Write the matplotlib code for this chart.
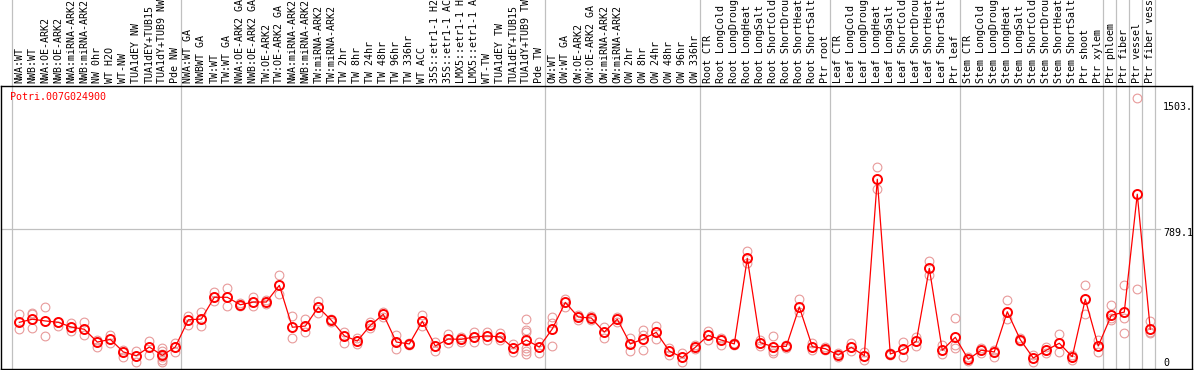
import numpy as np
import matplotlib
matplotlib.use("Agg")
import matplotlib.pyplot as plt
import matplotlib.transforms as mtransforms

gene = "Potri.007G024900"

# names are cut to 14 characters, as in the original chart
samples = ["NWA:WT", "NWB:WT", "NWA:OE-ARK2", "NWB:OE-ARK2", "NWA:miRNA-ARK2",
           "NWB:miRNA-ARK2", "NW 0hr", "WT H2O", "WT-NW", "TUA1dEY NW",
           "TUA1dEY+TUB15", "TUA1dY+TUB9 NW", "Pde NW", "NWA:WT GA", "NWBWT GA",
           "TW:WT", "TW:WT GA", "NWA:OE-ARK2 GA", "NWB:OE-ARK2 GA", "TW:OE-ARK2",
           "TW:OE-ARK2 GA", "NWA:miRNA-ARK2", "NWB:miRNA-ARK2", "TW:miRNA-ARK2", "TW:miRNA-ARK2",
           "TW 2hr", "TW 8hr", "TW 24hr", "TW 48hr", "TW 96hr",
           "TW 336hr", "WT ACC", "35S::etr1-1 H2", "35S::etr1-1 AC", "LMX5::etr1-1 H",
           "LMX5::etr1-1 A", "WT-TW", "TUA1dEY TW", "TUA1dEY+TUB15", "TUA1dY+TUB9 TW",
           "Pde TW", "OW:WT", "OW:WT GA", "OW:OE-ARK2", "OW:OE-ARK2 GA",
           "OW:miRNA-ARK2", "OW:miRNA-ARK2", "OW 2hr", "OW 8hr", "OW 24hr",
           "OW 48hr", "OW 96hr", "OW 336hr", "Root CTR", "Root LongCold",
           "Root LongDroug", "Root LongHeat", "Root LongSalt", "Root ShortCold", "Root ShortDrou",
           "Root ShortHeat", "Root ShortSalt", "Ptr root", "Leaf CTR", "Leaf LongCold",
           "Leaf LongDroug", "Leaf LongHeat", "Leaf LongSalt", "Leaf ShortCold", "Leaf ShortDrou",
           "Leaf ShortHeat", "Leaf ShortSalt", "Ptr leaf", "Stem CTR", "Stem LongCold",
           "Stem LongDroug", "Stem LongHeat", "Stem LongSalt", "Stem ShortCold", "Stem ShortDrou",
           "Stem ShortHeat", "Stem ShortSalt", "Ptr shoot", "Ptr xylem", "Ptr phloem",
           "Ptr fiber", "Ptr vessel", "Ptr fiber vess"]

means = [239, 257, 247, 239, 211, 198, 123, 139, 65, 43,
         94, 45, 94, 254, 258, 386, 386, 342, 358, 358,
         456, 210, 217, 327, 251, 160, 129, 221, 286, 123,
         112, 245, 100, 141, 139, 153, 159, 153, 88, 135,
         94, 200, 356, 270, 264, 182, 257, 112, 141, 180,
         70, 33, 92, 163, 135, 112, 615, 119, 96, 98,
         329, 96, 84, 47, 92, 43, 1079, 53, 80, 127,
         556, 75, 151, 22, 75, 65, 301, 137, 29, 75,
         116, 37, 374, 100, 280, 299, 991, 198]

reps = [[288, 198], [288, 206, 295], [327, 157], [239, 217], [233, 186],
        [241, 166], [135, 96], [164, 119], [76, 37], [70, 8],
        [131, 49], [90, 70, 50, 37, 18, 5], [119, 66], [276, 223], [298, 219],
        [415, 366], [439, 333], [350, 335], [389, 335], [370, 345],
        [517, 405], [275, 145], [258, 180], [364, 292], [257, 241],
        [182, 119], [149, 110], [241, 204], [301, 273], [166, 84],
        [117, 108], [280, 217], [123, 72], [169, 116], [153, 123],
        [184, 125], [184, 135], [176, 135], [112, 66], [258, 194, 180, 90, 72, 53],
        [125, 57], [272, 236, 100], [376, 327], [282, 252], [276, 252],
        [213, 145], [272, 241], [145, 69], [192, 164, 75], [219, 143],
        [88, 49], [57, 6], [103, 82], [188, 135], [149, 106],
        [119, 103], [658, 585], [135, 100], [159, 72, 60], [106, 88],
        [376, 298], [119, 76], [94, 76], [59, 35], [119, 72],
        [66, 18], [1149, 1022], [57, 47], [122, 37], [154, 100],
        [599, 515], [106, 53], [262, 106, 86], [35, 12], [86, 60],
        [76, 37], [370, 257], [145, 129], [47, 8], [96, 59],
        [169, 63], [47, 18], [456, 286], [135, 63], [341, 262, 252],
        [458, 262, 174], [1554, 433], [247, 184, 174]]

# group boundaries (sample index where a new group starts)
group_starts = [0, 13, 41, 53, 63, 73, 84, 85, 86, 87, 88]

y_ticks = [1503, 789.1, 0]
y_tick_labels = ["1503.", "789.1", "0"]

W, H = 1194, 370
fig = plt.figure(figsize=(W / 100, H / 100), dpi=100)
ax = fig.add_axes([1 / W, 1 / H, 1191 / W, 283 / H])

mono = "DejaVu Sans Mono"
fs = 7.2
rep_color = "#e89a9a"

x = np.arange(len(samples))
ax.set_xlim(-1.41, 90.21)
ax.set_ylim(-35.2, 1626.5)
ax.set_xticks([])
ax.set_yticks([])
for s in ax.spines.values():
    s.set_color("black")
    s.set_linewidth(1.0)

# separators go through the label area too
for b in group_starts:
    ax.axvline(b - 0.6, ymin=0, ymax=1.31, color="#c0c0c0", lw=0.9,
               clip_on=False, zorder=1)
ax.axhline(y_ticks[1], xmin=0, xmax=0.973, color="#c0c0c0", lw=0.9, zorder=1)

for i, r in enumerate(reps):
    ax.plot([i] * len(r), r, "o", ms=6.3, mfc="none", mec=rep_color,
            mew=0.8, zorder=2)

ax.plot(x, means, "-", color="red", lw=0.9, zorder=3)
ax.plot(x, means, "o", ms=6.5, mfc="none", mec="red", mew=1.4, zorder=4)

# sample names, rotated above the box
trans = mtransforms.blended_transform_factory(ax.transData, ax.transAxes)
for i, name in enumerate(samples):
    ax.annotate(name, xy=(i, 1), xycoords=trans, xytext=(0, 2.2),
                textcoords="offset points", rotation=90, ha="center",
                va="bottom", fontsize=fs, family=mono, annotation_clip=False)

ax.annotate(gene, xy=(0, 1), xycoords="axes fraction", xytext=(6.3, -8),
            textcoords="offset points", ha="left", va="center",
            fontsize=fs, family=mono, color="red")

ytrans = mtransforms.blended_transform_factory(ax.transAxes, ax.transData)
for v, lab in zip(y_ticks, y_tick_labels):
    dy = -3.5 if lab == "789.1" else 0
    ax.annotate(lab, xy=(0.9757, v), xycoords=ytrans, xytext=(0, dy),
                textcoords="offset points", ha="left", va="center",
                fontsize=fs, family=mono, annotation_clip=False)

fig.savefig("out.png", dpi=100)
